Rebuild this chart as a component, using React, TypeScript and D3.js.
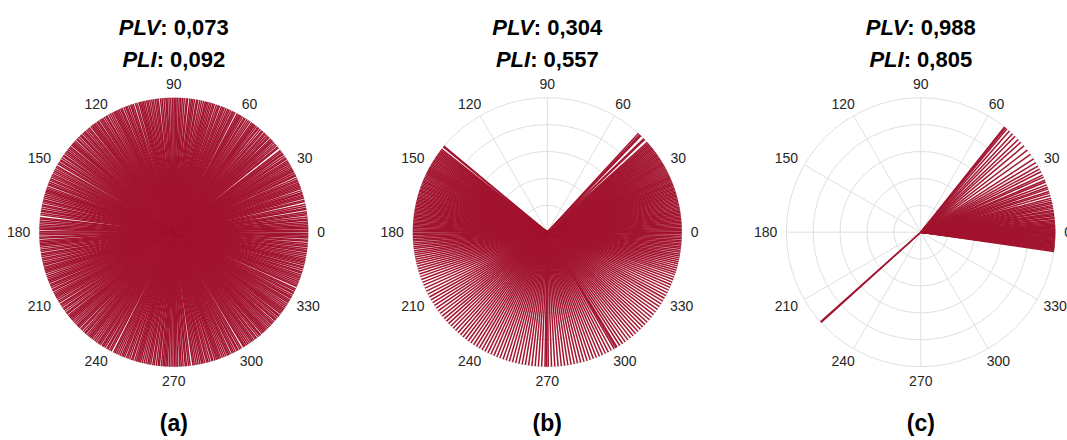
import React from "react";
import * as d3 from "d3";

// Phase angles (degrees)
const phasesA: number[] = [
  0.3, 0.9, 1.7, 2.2, 2.9, 3.6, 4.3, 5.2, 5.6, 6.5, 7.4, 8.0, 8.7, 9.8, 10.3, 11.1, 12.0, 13.2, 13.8, 14.7,
  15.4, 16.0, 16.7, 17.2, 18.0, 18.9, 19.5, 20.2, 20.9, 21.6, 22.4, 23.0, 23.8, 24.8, 25.3, 26.1, 26.9, 27.4,
  28.0, 28.6, 29.3, 30.1, 30.9, 31.5, 32.2, 33.1, 33.7, 34.6, 35.5, 36.0, 36.8, 37.5, 38.9, 39.4, 40.3, 41.0,
  41.8, 42.6, 43.2, 43.9, 44.8, 45.3, 46.1, 46.9, 47.5, 48.4, 49.0, 49.9, 50.8, 51.3, 52.1, 52.9, 53.4, 54.0,
  54.6, 55.5, 56.2, 57.0, 57.9, 58.4, 59.3, 60.0, 60.6, 61.2, 61.8, 62.9, 63.6, 64.1, 64.9, 65.7, 66.3, 67.1,
  67.9, 68.5, 69.2, 70.1, 70.7, 71.5, 72.4, 73.0, 73.8, 74.5, 75.2, 75.9, 76.4, 77.2, 78.0, 78.8, 79.7, 80.2,
  81.1, 81.8, 82.4, 83.1, 84.1, 84.6, 85.5, 86.3, 87.0, 87.7, 88.5, 89.1, 89.8, 90.5, 91.3, 92.1, 92.9, 93.4,
  94.2, 95.0, 95.7, 96.7, 97.3, 98.0, 98.8, 99.5, 100.3, 101.1, 101.7, 102.5, 103.2, 103.8, 104.4, 105.0,
  105.9, 106.6, 107.6, 108.3, 108.8, 109.6, 110.4, 111.0, 111.8, 112.7, 113.3, 114.1, 114.8, 115.4, 116.0,
  116.6, 117.4, 118.2, 119.0, 119.9, 120.4, 121.2, 122.0, 122.6, 123.3, 124.2, 124.8, 125.6, 126.3, 126.9,
  127.5, 128.1, 129.0, 129.7, 130.5, 131.3, 131.9, 132.6, 133.5, 134.1, 135.0, 135.8, 136.3, 137.2, 137.9,
  138.5, 139.0, 139.6, 140.5, 141.2, 142.0, 142.8, 143.4, 144.1, 145.0, 145.6, 146.5, 147.3, 147.8, 148.7,
  149.4, 150.6, 151.2, 152.0, 152.8, 153.6, 154.4, 155.0, 155.7, 156.6, 157.2, 158.1, 158.9, 159.4, 160.3,
  161.0, 161.6, 162.2, 162.8, 163.6, 164.4, 165.2, 166.0, 166.6, 167.3, 168.2, 168.8, 169.6, 170.5, 171.0,
  171.9, 172.6, 173.8, 174.4, 175.2, 176.0, 176.8, 177.6, 178.2, 178.9, 179.8, 180.4, 181.2, 182.1, 182.6,
  183.5, 184.2, 184.8, 185.4, 186.0, 186.8, 187.6, 188.3, 189.2, 189.8, 190.5, 191.4, 192.0, 192.9, 193.7,
  194.2, 195.1, 195.8, 196.4, 197.0, 197.6, 198.4, 199.2, 200.0, 200.8, 201.4, 202.1, 203.0, 203.6, 204.4,
  205.3, 205.8, 206.7, 207.4, 208.0, 208.6, 209.2, 210.0, 210.8, 211.5, 212.4, 213.0, 213.7, 214.6, 215.2,
  216.0, 216.9, 217.4, 218.3, 219.0, 219.6, 220.2, 220.8, 221.6, 222.4, 223.2, 224.0, 224.6, 225.3, 226.2,
  226.8, 227.7, 228.5, 229.0, 229.9, 230.6, 231.2, 231.8, 232.4, 233.2, 234.0, 234.8, 235.6, 236.2, 236.9,
  237.8, 238.4, 239.2, 240.1, 240.6, 241.5, 242.2, 243.4, 244.0, 244.8, 245.6, 246.4, 247.2, 247.8, 248.5,
  249.4, 250.0, 250.8, 251.7, 252.2, 253.1, 253.8, 254.4, 255.0, 255.6, 256.4, 257.2, 258.0, 258.8, 259.4,
  260.1, 261.0, 261.6, 262.5, 263.3, 263.8, 264.7, 265.4, 266.0, 266.6, 267.2, 268.0, 268.8, 269.6, 270.4,
  271.0, 271.7, 272.6, 273.2, 274.0, 274.9, 275.4, 276.3, 277.0, 278.2, 278.8, 279.6, 280.4, 281.2, 282.0,
  282.6, 283.3, 284.2, 284.8, 285.6, 286.5, 287.0, 287.9, 288.6, 289.2, 289.8, 290.4, 291.2, 292.0, 292.8,
  293.6, 294.2, 294.9, 295.8, 296.4, 297.2, 298.1, 298.6, 299.5, 300.2, 301.4, 302.0, 302.8, 303.6, 304.4,
  305.2, 305.8, 306.5, 307.4, 308.0, 308.9, 309.7, 310.2, 311.1, 311.8, 312.4, 313.0, 313.6, 314.4, 315.2,
  316.0, 316.8, 317.4, 318.1, 319.0, 319.6, 320.4, 321.3, 321.8, 322.7, 323.4, 324.0, 324.6, 325.2, 326.0,
  326.8, 327.6, 328.4, 329.0, 329.7, 330.6, 331.2, 332.0, 332.9, 333.4, 334.3, 335.0, 336.2, 336.8, 337.6,
  338.4, 339.2, 340.0, 340.6, 341.3, 342.2, 342.8, 343.7, 344.5, 345.0, 345.9, 346.6, 347.2, 347.8, 348.4,
  349.2, 350.0, 350.8, 351.6, 352.2, 352.9, 353.8, 354.4, 355.2, 356.1, 356.6, 357.5, 358.2, 358.8, 359.4,
];

const phasesB: number[] = [
  // upper-right wedge
  0.0, 0.6, 1.2, 1.8, 2.4, 3.0, 3.6, 4.2, 4.8, 5.4, 6.0, 6.6, 7.2, 7.8, 8.4, 9.0, 9.6, 10.2, 10.8, 11.4,
  12.0, 12.6, 13.2, 13.8, 14.4, 15.0, 15.6, 16.2, 16.8, 17.4, 18.0, 18.6, 19.2, 19.8, 20.4, 21.0, 21.6,
  22.2, 22.8, 23.4, 24.0, 24.6, 25.2, 25.8, 26.4, 27.0, 27.6, 28.2, 28.8, 29.4, 30.0, 30.6, 31.2, 31.8,
  32.4, 33.0, 33.6, 34.2, 34.8, 35.4, 36.0, 36.6, 37.2, 37.8, 38.4, 39.0, 39.6, 40.2, 40.8, 41.4, 42.0,
  43.6, 44.1, 45.9, 46.5, 47.3,
  // upper-left wedge
  140.2, 140.6, 141.9, 142.5, 143.1, 143.7, 144.3, 144.9, 145.5, 146.1, 146.7, 147.3, 147.9, 148.5, 149.1,
  149.7, 150.3, 150.9, 151.5, 152.1, 152.7, 153.3, 153.9, 154.5, 155.1, 155.7, 156.3, 156.9, 157.5, 158.1,
  158.7, 159.3, 159.9, 160.5, 161.1, 161.7, 162.3, 162.9, 163.5, 164.1, 164.7, 165.3, 165.9, 166.5, 167.1,
  167.7, 168.3, 168.9, 169.5, 170.1, 170.7, 171.3, 171.9, 172.5, 173.1, 173.7, 174.3, 174.9, 175.5, 176.1,
  176.7, 177.3, 177.9, 178.5, 179.1, 179.7,
  // lower half
  180.4, 181.0, 181.7, 182.4, 183.1, 183.8, 184.6, 185.4, 186.2, 187.0, 187.9, 188.8, 189.7, 190.6, 191.6,
  192.6, 193.6, 194.7, 195.8, 196.9, 198.1, 199.3, 200.6, 201.9, 203.2, 204.6, 206.0, 207.4, 208.8, 210.2,
  211.6, 213.0, 214.4, 215.8, 217.2, 218.6, 220.0, 221.4, 222.8, 224.2, 225.6, 227.0, 228.4, 229.8, 231.2,
  232.6, 234.0, 235.4, 236.8, 238.2, 239.6, 241.0, 242.4, 243.8, 245.2, 246.6, 248.0, 249.4, 250.8, 252.2,
  253.6, 255.0, 256.4, 257.8, 259.2, 260.6, 262.0, 263.4, 264.8, 266.2, 267.6, 269.0, 269.6, 270.4, 271.8,
  273.2, 274.6, 276.0, 277.4, 278.8, 280.2, 281.6, 283.0, 284.4, 285.8, 287.2, 288.6, 290.0, 291.4, 292.8,
  294.2, 295.6, 297.0, 298.4, 299.8, 300.6, 301.2, 302.6, 304.0, 305.4, 306.8, 308.2, 309.6, 311.0, 312.4,
  313.8, 315.2, 316.6, 318.0, 319.4, 320.8, 322.2, 323.6, 325.0, 326.4, 327.8, 329.2, 330.6, 331.9, 333.2,
  334.5, 335.8, 337.0, 338.2, 339.4, 340.5, 341.6, 342.6, 343.6, 344.6, 345.5, 346.4, 347.3, 348.2, 349.0,
  349.8, 350.6, 351.4, 352.2, 353.0, 353.7, 354.4, 355.1, 355.8, 356.5, 357.2, 357.9, 358.6, 359.3,
];

const phasesC: number[] = [
  -8.2, -7.8, -7.4, -7.0, -6.6, -6.2, -5.8, -5.4, -5.0, -4.6, -4.2, -3.8, -3.4, -3.0, -2.6, -2.2, -1.8,
  -1.4, -1.0, -0.6, -0.2, 0.2, 0.6, 1.0, 1.4, 1.8, 2.2, 2.6, 3.0, 3.5, 4.0, 4.6, 5.1, 5.8, 6.3, 7.0, 7.6,
  8.1, 8.9, 9.4, 10.2, 10.9, 11.5, 12.3, 13.0, 13.8, 14.6, 15.8, 16.9, 17.6, 18.8, 19.5, 20.6, 21.9, 22.7,
  24.2, 25.1, 26.7, 28.0, 29.4, 31.2, 33.0, 35.4, 37.6, 39.9, 42.0, 43.6, 45.5, 47.0, 48.8, 50.2, 50.9, 51.5,
  221.8, 222.2,
];

const plvValues = ["0,073", "0,304", "0,988"];
const pliValues = ["0,092", "0,557", "0,805"];
const panelLetters = ["(a)", "(b)", "(c)"];
const thetaTicks = [0, 30, 60, 90, 120, 150, 180, 210, 240, 270, 300, 330];
const ringTicks = [0.2, 0.4, 0.6, 0.8, 1.0];

const panels = [phasesA, phasesB, phasesC];

const LINE_COLOR = "#A2142F";
const GRID_COLOR = "#dfdfdf";
const TEXT_COLOR = "#262626";
const FONT = "'Liberation Sans', Arial, Helvetica, sans-serif";

export default function App() {
  const W = 1067;
  const H = 440;
  const R = 134.5;
  const cy = 232.2;
  const cxScale = d3.scalePoint<number>().domain([0, 1, 2]).range([173.8, 920.8]);
  const rScale = d3.scaleLinear().domain([0, 1]).range([0, R]);
  const toRad = (deg: number) => ((90 - deg) * Math.PI) / 180; // d3 radial angle
  const radial = d3
    .lineRadial<[number, number]>()
    .angle((d) => toRad(d[0]))
    .radius((d) => rScale(d[1]));

  const digitW = 14 * 0.556;
  const labelH = 10;

  return (
    <svg
      width={W}
      height={H}
      style={{ position: "absolute", left: 0, top: 0, background: "#fff" }}
      fontFamily={FONT}
    >
      {panels.map((phases, i) => {
        const cx = cxScale(i) as number;
        return (
          <g key={i}>
            <g transform={`translate(${cx},${cy})`}>
              {ringTicks.map((t) => (
                <circle key={t} r={rScale(t)} fill="none" stroke={GRID_COLOR} strokeWidth={1} />
              ))}
              {thetaTicks.map((t) => (
                <path
                  key={t}
                  d={radial([
                    [t, 0],
                    [t, 1],
                  ]) as string}
                  stroke={GRID_COLOR}
                  strokeWidth={1}
                  fill="none"
                />
              ))}
              {phases.map((p, k) => (
                <path
                  key={k}
                  d={radial([
                    [p, 0],
                    [p, 1],
                  ]) as string}
                  stroke={LINE_COLOR}
                  strokeWidth={1.5}
                  fill="none"
                />
              ))}
            </g>
            {thetaTicks.map((t) => {
              const th = (t * Math.PI) / 180;
              const w = String(t).length * digitW;
              const r0 = R + 9;
              const x = cx + r0 * Math.cos(th) + (Math.cos(th) * w) / 2;
              const y = cy - r0 * Math.sin(th) - (Math.sin(th) * labelH) / 2;
              return (
                <text key={t} x={x} y={y + 5} textAnchor="middle" fontSize={14} fill={TEXT_COLOR}>
                  {t}
                </text>
              );
            })}
            <text x={cx} y={34.5} textAnchor="middle" fontSize={22} fontWeight="bold" fill="#000">
              <tspan fontStyle="italic">PLV</tspan>
              <tspan>{": " + plvValues[i]}</tspan>
            </text>
            <text x={cx} y={66.5} textAnchor="middle" fontSize={22} fontWeight="bold" fill="#000">
              <tspan fontStyle="italic">PLI</tspan>
              <tspan>{": " + pliValues[i]}</tspan>
            </text>
            <text x={cx} y={431} textAnchor="middle" fontSize={23} fontWeight="bold" fill="#000">
              {panelLetters[i]}
            </text>
          </g>
        );
      })}
    </svg>
  );
}
